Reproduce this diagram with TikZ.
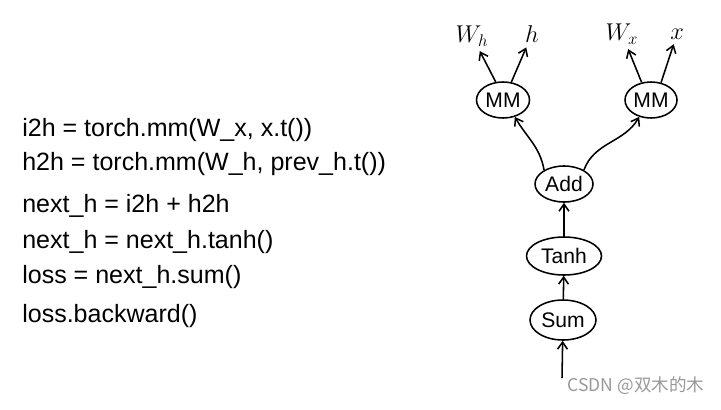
\documentclass[tikz,border=0pt]{standalone}
\usepackage{fontspec}
\setmainfont{Liberation Sans}
\newfontfamily\cjk{Noto Sans CJK SC}
\usetikzlibrary{shapes.geometric,arrows.meta}

\begin{document}
\begin{tikzpicture}[x=0.025cm,y=-0.025cm,
    op/.style={ellipse,draw,line width=1.1pt,inner sep=0pt,font=\fontsize{15}{17}\selectfont},
    flow/.style={line width=1.1pt,-{Straight Barb[length=5pt,width=7pt]}},
    lbl/.style={font=\fontsize{18}{20}\selectfont},
    code/.style={anchor=west,inner sep=0pt,font=\fontsize{17.8}{20}\selectfont}]
    \useasboundingbox (0,0) rectangle (721,409);

    % code on the left
    \node[code] (l1) at (22,130) {i2h = torch.mm(W\_x, x.t())};
    \node[code] (l2) at (22,164) {h2h = torch.mm(W\_h, prev\_h.t())};
    \node[code] (l3) at (22,206) {next\_h = i2h + h2h};
    \node[code] (l4) at (22,242) {next\_h = next\_h.tanh()};
    \node[code] (l5) at (22,277) {loss = next\_h.sum()};
    \node[code] (l6) at (22,316) {loss.backward()};

    % graph on the right
    \node[op,minimum width=53*0.7113pt,minimum height=36*0.7113pt] (mml) at (503,100) {MM};
    \node[op,minimum width=52*0.7113pt,minimum height=36*0.7113pt] (mmr) at (651,100) {MM};
    \node[op,minimum width=58*0.7113pt,minimum height=36*0.7113pt] (add) at (564,184) {Add};
    \node[op,minimum width=75*0.7113pt,minimum height=38*0.7113pt] (tanh) at (564,256) {Tanh};
    \node[op,minimum width=66*0.7113pt,minimum height=40*0.7113pt] (sum) at (563,320) {Sum};

    \node[lbl] (wh) at (472,36) {$W_h$};
    \node[lbl] (h) at (532,34) {$h$};
    \node[lbl] (wx) at (622,34) {$W_x$};
    \node[lbl] (x) at (677,34) {$x$};
    \coordinate (in) at (562,378);

    \draw[flow] (in) -- (sum);
    \draw[flow] (sum) -- (tanh);
    \draw[flow] (tanh) -- (add);
    \draw[flow] (add.145) to[out=100,in=-60] (mml.-55);
    \draw[flow] (add.35) to[out=70,in=-120] (mmr.-125);
    \draw[flow] (mml.112) -- (wh);
    \draw[flow] (mml.65) -- (h);
    \draw[flow] (mmr.118) -- (wx);
    \draw[flow] (mmr.60) -- (x);

    \node[text=black!40,font=\cjk\fontsize{12.5}{14}\selectfont] (mark) at (636,386) {CSDN @双木的木};
\end{tikzpicture}
\end{document}
